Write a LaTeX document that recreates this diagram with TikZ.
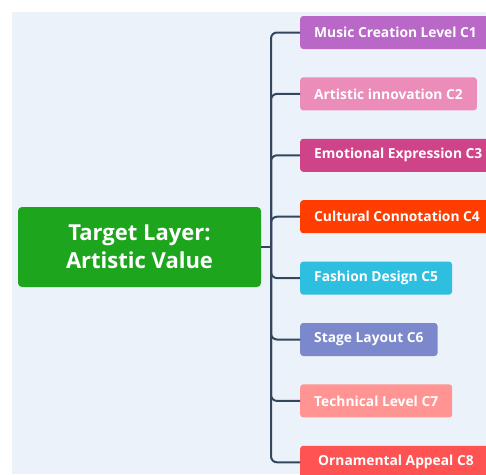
\documentclass[tikz,border=0pt]{standalone}
\usepackage{fontspec}
\setmainfont{Open Sans}
\usepackage{tikz}
\usetikzlibrary{positioning}

\definecolor{paper}{HTML}{EBF2F9}
\definecolor{wire}{HTML}{34465E}
\definecolor{rootgreen}{HTML}{1DA61D}
\definecolor{cone}{HTML}{BA68C8}
\definecolor{ctwo}{HTML}{EC8CB9}
\definecolor{cthree}{HTML}{CF4489}
\definecolor{cfour}{HTML}{FF3D00}
\definecolor{cfive}{HTML}{2EBFE0}
\definecolor{csix}{HTML}{7B88CB}
\definecolor{cseven}{HTML}{FF9492}
\definecolor{ceight}{HTML}{FF5252}

\begin{document}
\begin{tikzpicture}[
  x=1pt, y=1pt,
  node distance=28pt,
  rootbox/.style={rectangle, rounded corners=4pt, fill=rootgreen, text=white, font=\fontsize{22}{28}\selectfont\bfseries, align=center, minimum width=243pt, minimum height=80pt},
  leaf/.style={rectangle, rounded corners=3pt, fill=#1, text=white, font=\fontsize{13.8}{16}\selectfont\bfseries, inner xsep=14pt, minimum height=33pt, anchor=west},
  link/.style={draw=wire, line width=2pt, rounded corners=6pt}
]
\useasboundingbox (0,0) rectangle (486,-474);
\clip (0,0) rectangle (486,-474);
\fill[paper] (12,-12) rectangle (486,-474);

\node[rootbox] (root) at (139.5,-247) {Target Layer:\\Artistic Value};

\node[leaf=cone] (c1) at (300,-32.5) {Music Creation Level C1};
\node[leaf=ctwo, below=of c1.south west, anchor=north west] (c2) {Artistic innovation C2};
\node[leaf=cthree, below=of c2.south west, anchor=north west] (c3) {Emotional Expression C3};
\node[leaf=cfour, below=of c3.south west, anchor=north west] (c4) {Cultural Connotation C4};
\node[leaf=cfive, below=of c4.south west, anchor=north west] (c5) {Fashion Design C5};
\node[leaf=csix, below=of c5.south west, anchor=north west] (c6) {Stage Layout C6};
\node[leaf=cseven, below=of c6.south west, anchor=north west] (c7) {Technical Level C7};
\node[leaf=ceight, below=of c7.south west, anchor=north west, inner xsep=18pt] (c8) {Ornamental Appeal C8};

% trunk joint between the root and the leaves
\coordinate (trunk) at (271,-247);
\draw[link] (root.east) -- (trunk);
\foreach \i in {1,...,8}
  \draw[link] (trunk) |- (c\i.west);
\end{tikzpicture}
\end{document}
